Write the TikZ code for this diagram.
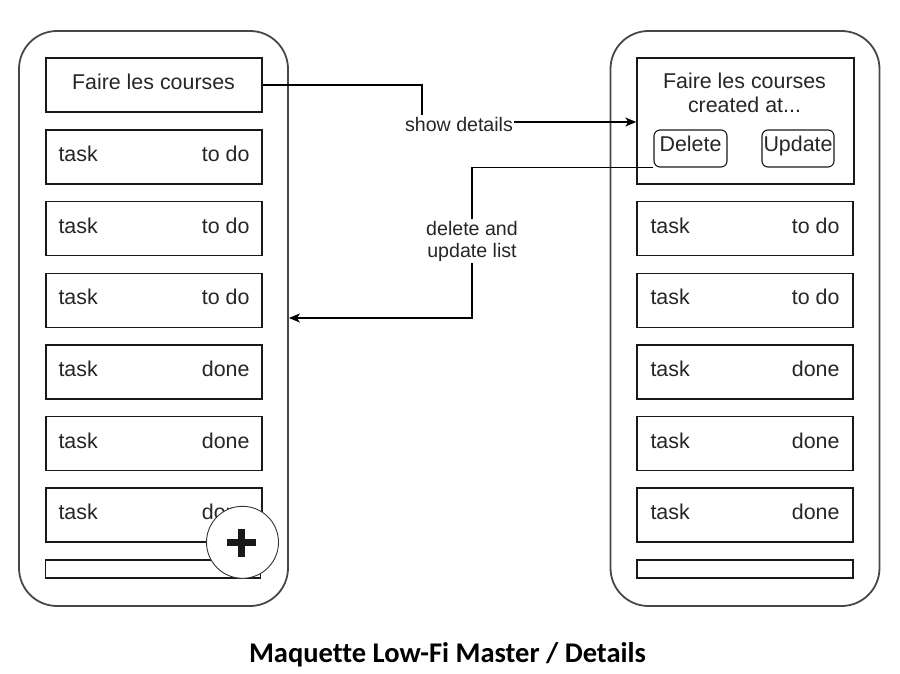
\documentclass[tikz,border=0pt]{standalone}
\usepackage{fontspec}
\setmainfont{Liberation Sans}
\newfontfamily\titlefont{Carlito}[Ligatures=NoCommon]
\usetikzlibrary{arrows.meta,calc}
\newcommand{\mainsz}{\fontsize{21.4}{25}\selectfont}
\newcommand{\labsz}{\fontsize{19.6}{22}\selectfont}
\begin{document}
\begin{tikzpicture}[x=1pt,y=-1pt,
  phone/.style={draw=black!72, line width=1.8pt, rounded corners=38pt,
    minimum width=269pt, minimum height=575pt, inner sep=0pt},
  rowbox/.style={draw=black!90, line width=1.4pt, fill=white,
    minimum width=216pt, minimum height=54pt, inner sep=0pt},
  barbox/.style={draw=black!90, line width=1.4pt,
    minimum width=215pt, minimum height=18pt, inner sep=0pt},
  btn/.style={draw=black!90, line width=1.1pt, rounded corners=6pt,
    minimum width=72pt, minimum height=37pt, inner sep=0pt,
    text height=12pt, text depth=5pt, font=\mainsz, text=black!85},
  tl/.style={anchor=base west, inner sep=0pt, font=\mainsz, text=black!85},
  tr/.style={anchor=base east, inner sep=0pt, font=\mainsz, text=black!85},
  tc/.style={anchor=base, inner sep=0pt, font=\mainsz, text=black!85},
  lab/.style={fill=white, inner sep=1.5pt, font=\labsz, text=black!85, align=center},
  conn/.style={draw=black, line width=1.3pt},
  tip/.style={-{Stealth[length=11pt,width=9pt,inset=3pt]}}
]
\useasboundingbox (0,0) rectangle (900,674);

% phones
\node[phone] (lphone) at (153.5,318.5) {};
\node[phone] (rphone) at (745,318.5) {};

% left top item
\node[rowbox] (ltop) at (154,85) {};
\node[tc] (ltoptxt) at (153.5,90) {Faire les courses};

% right detail box
\node[rowbox, minimum width=217pt, minimum height=126pt] (rtop) at (745.5,121) {};
\node[tc] (rtop1) at (744.5,88.3) {Faire les courses};
\node[tc] (rtop2) at (744.5,112.7) {created at...};
\node[btn, minimum width=73pt] (del) at (690.5,148.5) {Delete};
\node[btn] (upd) at (798,148.5) {Update};

% left task rows
\foreach \i/\s in {0/to do,1/to do,2/to do,3/done,4/done,5/done}{
  \node[rowbox] (L\i) at (154,{157+71.6*\i}) {};
  \node[tl] (Lt\i) at ($(L\i.west)+(13,4.7)$) {task};
  \node[tr] (Ls\i) at ($(L\i.east)+(-13,4.7)$) {\s};
}
% right task rows
\foreach \i/\s in {1/to do,2/to do,3/done,4/done,5/done}{
  \node[rowbox] (R\i) at (745,{157+71.6*\i}) {};
  \node[tl] (Rt\i) at ($(R\i.west)+(14,4.7)$) {task};
  \node[tr] (Rs\i) at ($(R\i.east)+(-14,4.7)$) {\s};
}

% bottom bars
\node[barbox] (lbar) at (153,569) {};
\node[barbox, minimum width=216pt] (rbar) at (745,569) {};

% connectors
\coordinate (c1) at (422,122);
\draw[conn,tip] (ltop.east) -| (c1) -- (c1 -| rtop.west);
\node[lab] (showlab) at (459,124) {show details};

\coordinate (c2) at (472,318);
\draw[conn,tip] (del.south west) -- (del.south west -| c2) -- (c2) -- (c2 -| lphone.east);
\node[lab] (dellab) at (472,241) {delete and\\update list};

% plus button
\node[circle, draw=black!80, line width=0.9pt, fill=white, minimum size=72pt, inner sep=0pt] (plus) at (242.5,542.3) {};
\coordinate (pc) at (241.5,542.5);
\draw[line width=7pt, black!90] ([xshift=-14.5pt]pc) -- ([xshift=14.5pt]pc);
\draw[line width=7pt, black!90] ([yshift=-14pt]pc) -- ([yshift=14pt]pc);

% title
\node[anchor=base, inner sep=0pt, font=\titlefont\bfseries\fontsize{28.5}{34}\selectfont] (title) at (447.5,662) {Maquette Low-Fi Master / Details};
\end{tikzpicture}
\end{document}
